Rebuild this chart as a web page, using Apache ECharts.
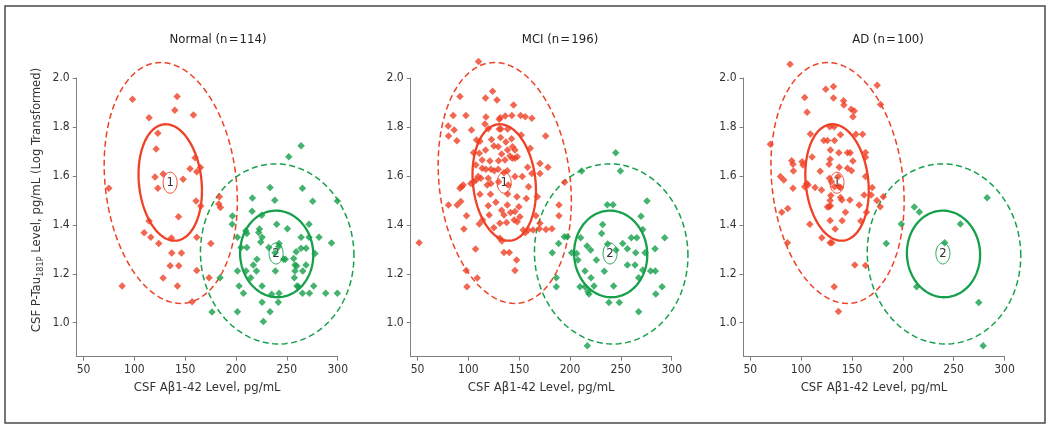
<!DOCTYPE html>
<html>
<head>
<meta charset="utf-8">
<script src="https://cdn.jsdelivr.net/npm/echarts@6/dist/echarts.min.js"></script>
<style>html,body{margin:0;padding:0;background:#fff}#c{width:1050px;height:428px}</style>
</head>
<body>
<div id="c"></div>
<script>
// ---------- data ----------
const panelTitles = ['Normal (n\u200a=\u200a114)', 'MCI (n\u200a=\u200a196)', 'AD (n\u200a=\u200a100)'];
const xTicks = [50, 100, 150, 200, 250, 300];
const yTicks = [1.0, 1.2, 1.4, 1.6, 1.8, 2.0];

const normalRed = [[98.2,1.913],[142.1,1.924],[139.8,1.868],[114.5,1.838],[158.1,1.849],[123.1,1.774],[121.4,1.710],[159.8,1.674],[165.0,1.634],[154.8,1.629],[161.4,1.617],[128.3,1.608],[120.4,1.595],[148.0,1.586],[123.1,1.549],[74.9,1.549],[160.7,1.497],[165.3,1.477],[183.7,1.515],[183.0,1.485],[184.6,1.471],[143.4,1.433],[114.5,1.416],[109.6,1.368],[116.2,1.349],[136.5,1.346],[124.0,1.324],[161.4,1.349],[175.2,1.324],[136.8,1.285],[146.3,1.285],[135.2,1.233],[143.7,1.233],[161.4,1.213],[128.3,1.183],[173.5,1.184],[88.0,1.150],[142.4,1.150],[156.8,1.086]];
const normalGreen = [[264.0,1.723],[251.9,1.678],[233.5,1.552],[265.3,1.549],[216.1,1.510],[238.1,1.500],[275.4,1.496],[299.7,1.497],[215.8,1.455],[225.3,1.439],[196.5,1.436],[196.2,1.402],[240.0,1.402],[271.8,1.402],[209.6,1.376],[210.6,1.365],[223.0,1.383],[222.3,1.369],[250.5,1.384],[201.4,1.349],[225.6,1.349],[224.3,1.330],[264.0,1.349],[271.8,1.349],[281.6,1.349],[293.9,1.326],[204.9,1.307],[210.6,1.307],[242.3,1.324],[242.0,1.311],[232.2,1.307],[264.0,1.304],[268.9,1.304],[238.4,1.286],[259.2,1.290],[277.6,1.283],[220.6,1.259],[246.8,1.259],[248.5,1.259],[256.7,1.262],[217.0,1.236],[258.0,1.236],[259.6,1.232],[268.8,1.236],[201.4,1.211],[209.9,1.211],[220.1,1.211],[238.7,1.211],[258.0,1.211],[265.6,1.211],[184.3,1.184],[214.5,1.184],[257.4,1.184],[203.0,1.150],[225.6,1.150],[259.9,1.150],[261.5,1.147],[276.4,1.150],[207.3,1.120],[235.1,1.116],[242.3,1.120],[265.3,1.120],[272.2,1.120],[288.2,1.120],[299.7,1.120],[225.6,1.084],[241.6,1.084],[176.4,1.044],[201.4,1.045],[233.5,1.045],[226.9,1.005]];

const mciRed = [[110.0,2.067],[123.8,1.946],[91.7,1.924],[116.9,1.918],[128.1,1.910],[144.5,1.890],[85.1,1.847],[97.6,1.847],[117.3,1.841],[131.4,1.838],[130.4,1.831],[136.3,1.845],[142.8,1.847],[151.4,1.847],[156.0,1.842],[162.5,1.835],[80.2,1.804],[86.1,1.787],[80.5,1.763],[88.7,1.744],[103.1,1.787],[116.3,1.812],[119.6,1.793],[130.4,1.792],[132.0,1.792],[138.6,1.792],[176.0,1.763],[152.0,1.767],[108.1,1.747],[111.4,1.741],[122.8,1.749],[131.7,1.757],[136.9,1.738],[142.5,1.752],[129.4,1.719],[143.5,1.719],[145.8,1.706],[160.9,1.713],[105.1,1.695],[110.7,1.692],[116.9,1.706],[125.1,1.722],[132.7,1.689],[138.6,1.706],[140.9,1.681],[143.2,1.672],[145.8,1.672],[148.1,1.678],[113.6,1.665],[121.2,1.661],[129.7,1.662],[136.0,1.665],[170.4,1.651],[178.3,1.635],[158.3,1.635],[107.4,1.644],[113.6,1.631],[117.3,1.627],[122.2,1.627],[125.5,1.621],[129.4,1.627],[135.0,1.613],[138.3,1.621],[162.5,1.610],[170.4,1.610],[109.7,1.597],[112.3,1.590],[107.7,1.583],[105.4,1.576],[102.5,1.569],[119.6,1.590],[145.8,1.597],[153.0,1.597],[118.6,1.563],[122.2,1.569],[139.2,1.563],[129.7,1.576],[159.2,1.556],[95.0,1.563],[93.3,1.556],[91.7,1.549],[111.4,1.525],[121.8,1.525],[138.6,1.526],[147.8,1.515],[157.0,1.508],[167.8,1.515],[194.7,1.574],[80.5,1.481],[89.0,1.481],[92.6,1.495],[119.6,1.478],[127.1,1.492],[132.7,1.460],[138.3,1.481],[141.5,1.450],[149.7,1.474],[189.1,1.481],[98.2,1.437],[120.5,1.440],[135.0,1.440],[145.8,1.454],[166.5,1.437],[189.1,1.437],[114.0,1.420],[131.0,1.406],[137.6,1.409],[145.1,1.420],[150.7,1.433],[95.6,1.383],[110.7,1.403],[125.1,1.388],[148.1,1.413],[154.0,1.379],[156.0,1.368],[158.9,1.379],[163.8,1.379],[170.4,1.406],[169.8,1.384],[176.3,1.381],[182.2,1.384],[51.6,1.327],[131.0,1.345],[133.0,1.334],[107.1,1.301],[135.0,1.287],[140.2,1.287],[147.4,1.256],[145.8,1.213],[97.9,1.213],[108.7,1.183],[98.6,1.147]];
const mciGreen = [[244.9,1.695],[211.4,1.620],[249.5,1.620],[275.7,1.497],[236.7,1.482],[242.3,1.482],[269.8,1.435],[232.1,1.401],[271.5,1.381],[231.1,1.365],[194.4,1.351],[197.3,1.351],[210.4,1.347],[260.3,1.347],[265.6,1.347],[293.1,1.347],[188.8,1.324],[216.7,1.313],[220.3,1.297],[237.0,1.322],[251.8,1.324],[256.4,1.302],[283.6,1.302],[182.5,1.286],[201.6,1.286],[206.5,1.283],[245.2,1.297],[264.6,1.286],[273.8,1.286],[207.8,1.256],[225.9,1.256],[256.4,1.236],[263.9,1.236],[233.7,1.210],[214.7,1.211],[271.5,1.215],[279.3,1.211],[283.9,1.211],[220.6,1.184],[186.5,1.184],[267.5,1.184],[186.5,1.147],[209.8,1.147],[214.7,1.147],[223.6,1.150],[242.9,1.150],[217.6,1.127],[218.6,1.117],[290.5,1.147],[284.3,1.117],[238.3,1.083],[248.5,1.083],[267.5,1.045],[217.0,0.906]];

const adRed = [[89.1,2.056],[124.2,1.954],[131.8,1.965],[174.8,1.970],[103.5,1.920],[131.8,1.918],[141.7,1.907],[142.0,1.890],[178.1,1.892],[105.8,1.860],[149.2,1.872],[152.2,1.865],[150.9,1.842],[128.2,1.801],[132.5,1.801],[109.1,1.771],[138.7,1.768],[153.8,1.770],[160.4,1.770],[122.3,1.745],[125.9,1.745],[132.8,1.745],[110.8,1.677],[128.8,1.706],[137.1,1.695],[145.6,1.695],[148.2,1.695],[163.3,1.696],[163.3,1.676],[128.5,1.668],[127.5,1.647],[150.9,1.661],[90.7,1.662],[92.0,1.648],[100.9,1.658],[101.9,1.644],[92.4,1.620],[118.7,1.619],[137.4,1.635],[145.6,1.631],[149.5,1.621],[163.3,1.597],[79.6,1.597],[82.9,1.583],[92.0,1.549],[105.5,1.569],[103.5,1.556],[106.8,1.563],[113.7,1.553],[120.0,1.542],[127.9,1.590],[129.8,1.576],[132.8,1.556],[137.1,1.556],[138.7,1.552],[147.9,1.501],[136.4,1.597],[129.2,1.520],[138.7,1.512],[140.0,1.501],[162.0,1.522],[168.9,1.522],[169.9,1.553],[157.1,1.481],[174.5,1.499],[177.8,1.474],[180.8,1.515],[80.9,1.451],[86.8,1.467],[128.8,1.478],[127.5,1.474],[125.9,1.473],[128.5,1.499],[143.6,1.451],[164.3,1.451],[108.5,1.402],[128.5,1.418],[140.3,1.417],[158.7,1.416],[133.4,1.383],[120.3,1.347],[128.5,1.327],[130.2,1.327],[86.5,1.327],[152.8,1.236],[163.3,1.234],[132.5,1.147],[136.7,1.046],[69.7,1.729]];
const adGreen = [[282.9,1.511],[211.3,1.473],[216.2,1.452],[198.5,1.403],[256.6,1.403],[183.7,1.324],[241.2,1.327],[213.6,1.147],[274.7,1.083],[279.0,0.906]];

// cluster ellipses: [centerX, centerY, halfWidthX, halfHeightY, correlation]
const ellipseParams = [[135.3,1.573,31.2,0.238,-0.14],[135.8,1.571,65.5,0.4925,-0.15],[240.0,1.281,36.0,0.177,-0.02],[240.5,1.281,75.5,0.368,-0.02]];
const ellipseCluster = [1, 1, 2, 2];
const ellipseDashed = [false, true, false, true];
// cluster centre labels: [x, y, label]
const clusterCentres = [[135.2,1.572,'1'],[239.4,1.283,'2']];

const panelRed = [normalRed, mciRed, adRed];
const panelGreen = [normalGreen, mciGreen, adGreen];

// ---------- styling ----------
const RED = '#ef4126', GREEN = '#17a04b';
const FONT = "'Liberation Sans Narrow','Arial Narrow','DejaVu Sans Condensed',sans-serif";
const gridLefts = [76.7, 410.7, 743.5];
const titleX = [218, 560, 888];

const chart = echarts.init(document.getElementById('c'), null, {renderer: 'canvas'});

function renderEllipse(params, api) {
  const i = params.dataIndex;
  const cx = api.value(0), cy = api.value(1), sx = api.value(2), sy = api.value(3), r = api.value(4);
  const pts = [];
  const n = 120, k = Math.sqrt(1 - r * r);
  for (let j = 0; j <= n; j++) {
    const t = j / n * 2 * Math.PI;
    pts.push(api.coord([cx + sx * Math.cos(t), cy + sy * (r * Math.cos(t) + k * Math.sin(t))]));
  }
  const col = ellipseCluster[i] === 1 ? RED : GREEN;
  return {
    type: 'polyline', shape: {points: pts},
    style: {fill: 'none', stroke: col, lineWidth: ellipseDashed[i] ? 1.5 : 2.3, lineDash: ellipseDashed[i] ? [6, 3.5] : null}
  };
}
function renderCentre(params, api) {
  const c = api.coord([api.value(0), api.value(1)]);
  const col = params.dataIndex === 0 ? RED : GREEN;
  const pts = [];
  for (let j = 0; j <= 60; j++) { const t = j / 60 * 2 * Math.PI; pts.push([c[0] + 7 * Math.cos(t), c[1] + 10.5 * Math.sin(t)]); }
  return {
    type: 'group', children: [
      {type: 'polyline', shape: {points: pts}, style: {fill: 'none', stroke: col, lineWidth: 1}},
      {type: 'text', x: c[0], y: c[1], style: {text: clusterCentres[params.dataIndex][2], fill: '#333', font: '13px ' + FONT, textAlign: 'center', textVerticalAlign: 'middle'}}
    ]
  };
}

const grids = [], xAxes = [], yAxes = [], series = [];
for (let p = 0; p < 3; p++) {
  grids.push({left: gridLefts[p], top: 78, width: 261, height: 278.7, containLabel: false});
  xAxes.push({
    gridIndex: p, type: 'value', min: 43.3, max: 300,
    axisLine: {show: true, lineStyle: {color: '#808080', width: 1}},
    axisTick: {show: true, length: 4, customValues: xTicks, lineStyle: {color: '#808080'}},
    axisLabel: {customValues: xTicks, color: '#333', fontSize: 12, fontFamily: FONT, margin: 7},
    splitLine: {show: false},
    name: 'CSF A\u03b21-42 Level, pg/mL', nameLocation: 'middle', nameGap: 24,
    nameTextStyle: {color: '#333', fontSize: 13, fontFamily: FONT}
  });
  yAxes.push({
    gridIndex: p, type: 'value', min: 0.861, max: 2.0,
    axisLine: {show: true, lineStyle: {color: '#808080', width: 1}},
    axisTick: {show: true, length: 4, customValues: yTicks, lineStyle: {color: '#808080'}},
    axisLabel: {customValues: yTicks, color: '#333', fontSize: 12, fontFamily: FONT, margin: 7, formatter: v => v.toFixed(1)},
    splitLine: {show: false}
  });
  series.push({type: 'custom', xAxisIndex: p, yAxisIndex: p, renderItem: renderEllipse, data: ellipseParams, clip: false, silent: true, z: 2});
  series.push({type: 'custom', xAxisIndex: p, yAxisIndex: p, renderItem: renderCentre, data: clusterCentres, clip: false, silent: true, z: 2});
  series.push({type: 'scatter', xAxisIndex: p, yAxisIndex: p, data: panelRed[p], symbol: 'diamond', symbolSize: 7.5, itemStyle: {color: RED}, clip: false, z: 3});
  series.push({type: 'scatter', xAxisIndex: p, yAxisIndex: p, data: panelGreen[p], symbol: 'diamond', symbolSize: 7.5, itemStyle: {color: GREEN}, clip: false, z: 3});
}

const graphics = [
  {type: 'rect', shape: {x: 5, y: 6, width: 1040, height: 417}, style: {fill: 'none', stroke: '#4a4a4a', lineWidth: 1.5}, silent: true},
  {type: 'text', x: 36.7, y: 200, rotation: Math.PI / 2, silent: true,
   style: {text: '{a|CSF P-Tau}{s|181P}{a| Level, pg/mL (Log Transformed)}', textAlign: 'center', textVerticalAlign: 'middle',
     rich: {a: {fontSize: 13, fontFamily: FONT, fill: '#333', lineHeight: 17, verticalAlign: 'middle'},
            s: {fontSize: 9, fontFamily: FONT, fill: '#333', lineHeight: 17, verticalAlign: 'bottom', padding: [6, 0, 0, 0]}}}}
];
for (let p = 0; p < 3; p++) {
  graphics.push({type: 'text', x: titleX[p], y: 40, silent: true,
    style: {text: panelTitles[p], fill: '#222', font: '13px ' + FONT, textAlign: 'center', textVerticalAlign: 'middle'}});
}

chart.setOption({
  animation: false,
  backgroundColor: '#fff',
  grid: grids, xAxis: xAxes, yAxis: yAxes, series: series,
  graphic: graphics
});
</script>
</body>
</html>
